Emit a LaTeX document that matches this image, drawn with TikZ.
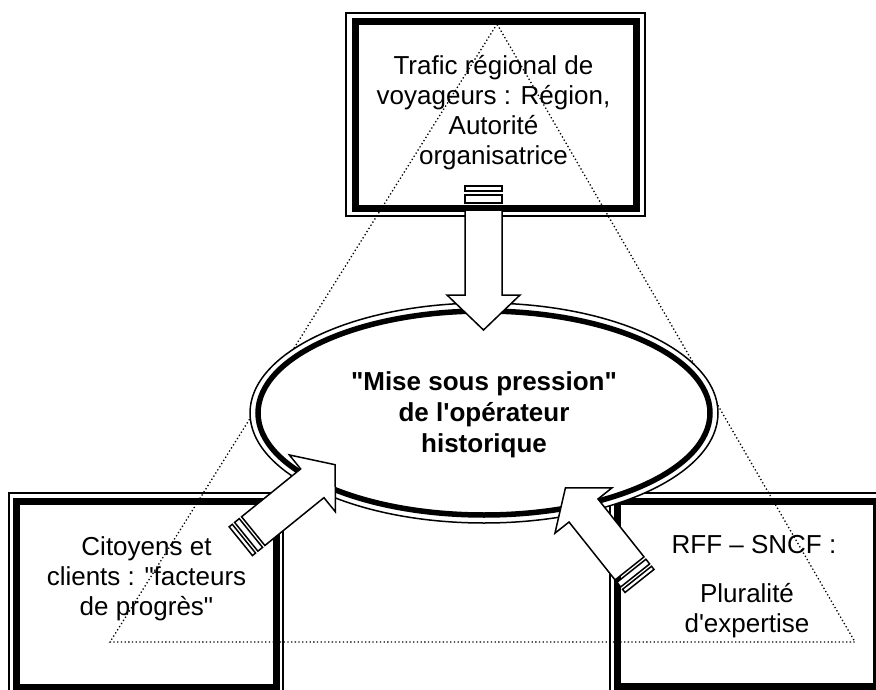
\documentclass[tikz,border=0pt]{standalone}
\usepackage{fontspec}
\newfontfamily\arial{Liberation Sans}
\begin{document}
\begin{tikzpicture}[x=1pt,y=-1pt,
  thinframe/.style={draw=black,line width=1.4pt,fill=white},
  thickframe/.style={draw=black,line width=7pt},
  dotline/.style={draw=black,line width=1.3pt,dash pattern=on 1.3pt off 2.4pt},
  ellthin/.style={draw=black,line width=1.5pt,fill=white},
  ellthick/.style={draw=black,line width=5.5pt},
  arrowline/.style={draw=black,line width=1.5pt,fill=white,line join=miter},
  boxtext/.style={font=\arial\fontsize{26}{30}\selectfont,inner sep=0pt,anchor=base},
  midtext/.style={font=\arial\bfseries\fontsize{26}{31}\selectfont,inner sep=0pt,anchor=base}]
\useasboundingbox (0,0) rectangle (876,690);
\clip (0,0) rectangle (876,690);

% boxes
\draw[thinframe] (346,13) rectangle (645,216);
\draw[thickframe] (355,21.5) rectangle (636.5,208.5);
\draw[thinframe] (9,493) rectangle (283,700);
\draw[thickframe] (16.5,501.5) rectangle (276.5,687.5);
\draw[thinframe] (610,493) rectangle (890,700);
\draw[thickframe] (617.5,501) rectangle (876.5,686.5);

\node[boxtext] (region) at (493.5,75) {\begin{tabular}[t]{@{}c@{}}Trafic régional de\\voyageurs : Région,\\Autorité\\organisatrice\end{tabular}};
\node[boxtext] (citoyens) at (146.5,555) {\begin{tabular}[t]{@{}c@{}}Citoyens et\\clients : "facteurs\\de progrès"\end{tabular}};
\node[boxtext] (rff) at (747,553) {\begin{tabular}[t]{@{}c@{}}\hspace*{14pt}RFF – SNCF :\\[19pt]Pluralité\\d'expertise\end{tabular}};

% dotted triangle
\coordinate (apex) at (497,24);
\coordinate (bl) at (110,642);
\coordinate (br) at (855,642);
\draw[dotline] (apex) -- (bl) -- (br) -- cycle;

% ellipse
\draw[ellthin] (484,413) ellipse [x radius=234pt, y radius=110pt];
\draw[ellthick] (484,413) ellipse [x radius=226pt, y radius=102pt];
\node[midtext] (pression) at (484,390) {\begin{tabular}[t]{@{}c@{}}"Mise sous pression"\\de l'opérateur\\historique\end{tabular}};

% striped block arrows
\begin{scope}[shift={(483.5,295)},rotate=-90]
  \draw[arrowline] (-85,-18.5) -- (0,-18.5) -- (0,-36.5) -- (35,0) -- (0,36.5) -- (0,18.5) -- (-85,18.5) -- cycle;
  \draw[arrowline] (-92,-18.5) rectangle (-100,18.5);
  \draw[arrowline] (-104,-18.5) rectangle (-109,18.5);
\end{scope}
\begin{scope}[shift={(312.3,483.3)},rotate=39]
  \draw[arrowline] (-76,-18.5) -- (0,-18.5) -- (0,-36.5) -- (29.5,0) -- (0,36.5) -- (0,18.5) -- (-76,18.5) -- cycle;
  \draw[arrowline] (-79,-18.5) rectangle (-85,18.5);
  \draw[arrowline] (-88,-18.5) rectangle (-92,18.5);
\end{scope}
\begin{scope}[shift={(583.5,510.5)},rotate=128.5]
  \draw[arrowline] (-74,-18.5) -- (0,-18.5) -- (0,-36.5) -- (29,0) -- (0,36.5) -- (0,18.5) -- (-74,18.5) -- cycle;
  \draw[arrowline] (-77,-18.5) rectangle (-83,18.5);
  \draw[arrowline] (-86,-18.5) rectangle (-90,18.5);
\end{scope}
\end{tikzpicture}
\end{document}
